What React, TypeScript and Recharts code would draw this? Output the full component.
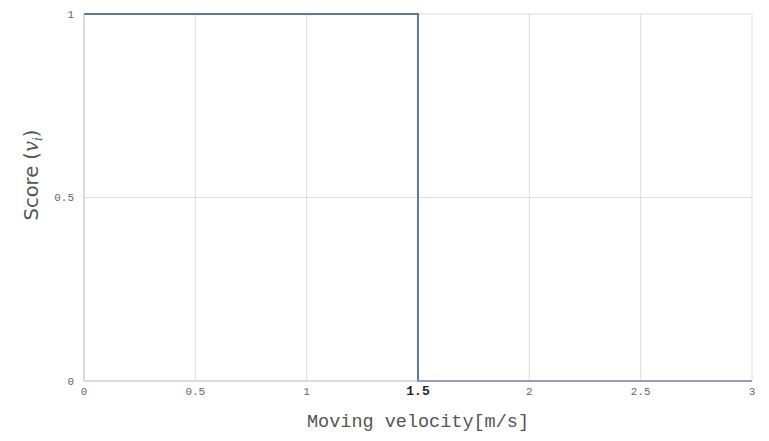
import { LineChart, Line, XAxis, YAxis, CartesianGrid } from "recharts";

// step function: score is 1 below 1.5 m/s, 0 above
const velocities = [0, 1.5, 1.5, 3];
const scores = [1, 1, 0, 0];
const xTicks = [0, 0.5, 1, 1.5, 2, 2.5, 3];
const yTicks = [0, 0.5, 1];

const data = velocities.map((v, i) => ({ v, score: scores[i] }));

const tickFont = "'Liberation Mono', 'DejaVu Sans Mono', monospace";

function XTick(props: any) {
  const { x, y, payload } = props;
  const bold = payload.value === 1.5;
  return (
    <text
      x={x}
      y={y}
      dy={10}
      textAnchor="middle"
      fontFamily={tickFont}
      fontSize={bold ? 13 : 11}
      fontWeight={bold ? 700 : 400}
      fill={bold ? "#222" : "#666"}
    >
      {payload.value}
    </text>
  );
}

export default function App() {
  return (
    <div style={{ position: "absolute", left: 0, top: 0, background: "#fff" }}>
      <LineChart
        width={769}
        height={441}
        data={data}
        margin={{ top: 14, right: 17, bottom: 0, left: 0 }}
      >
        <CartesianGrid stroke="#dcdcdc" strokeWidth={1} />
        <XAxis
          dataKey="v"
          type="number"
          domain={[0, 3]}
          ticks={xTicks}
          interval={0}
          height={60}
          stroke="#c8c8c8"
          tickLine={false}
          tickSize={0}
          tickMargin={4}
          tick={<XTick />}
        />
        <YAxis
          type="number"
          domain={[0, 1]}
          ticks={yTicks}
          interval={0}
          width={84}
          stroke="#c8c8c8"
          tickLine={false}
          tickSize={0}
          tickMargin={10}
          tick={{ fontFamily: tickFont, fontSize: 11, fill: "#666" }}
        />
        <Line
          type="linear"
          dataKey="score"
          stroke="#5a78b8"
          strokeWidth={2}
          dot={false}
          isAnimationActive={false}
        />
        <text
          x={418}
          y={427}
          textAnchor="middle"
          fontFamily={tickFont}
          fontSize={18.5}
          fill="#555"
        >
          Moving velocity[m/s]
        </text>
        <text
          x={0}
          y={0}
          transform="translate(38,175) rotate(-90)"
          textAnchor="middle"
          fontFamily="'DejaVu Sans', sans-serif"
          fontSize={19.5}
          fill="#555"
        >
          Score (
          <tspan fontStyle="italic" fontFamily="'DejaVu Serif', serif">v</tspan>
          <tspan fontStyle="italic" fontFamily="'DejaVu Serif', serif" fontSize={12} dy={4}>i</tspan>
          <tspan dy={-4}>)</tspan>
        </text>
      </LineChart>
    </div>
  );
}
